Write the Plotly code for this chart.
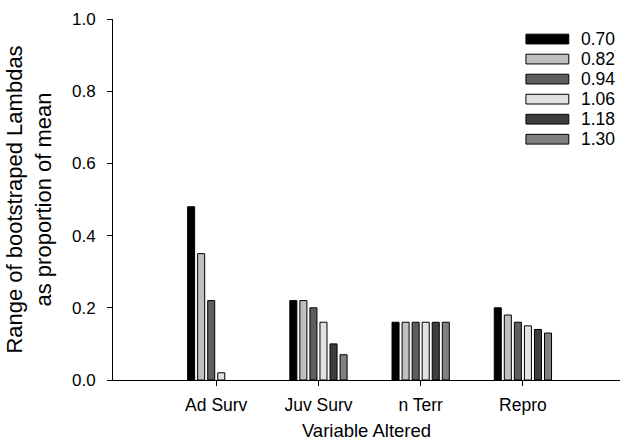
import plotly.graph_objects as go

# Variables altered in the sensitivity analysis
categories = ["Ad Surv", "Juv Surv", "n Terr", "Repro"]

# Multiplier applied to each variable (one series per level)
levels = ["0.70", "0.82", "0.94", "1.06", "1.18", "1.30"]

# Range of bootstrapped lambdas as proportion of mean, per level
v070 = [0.48, 0.22, 0.16, 0.20]
v082 = [0.35, 0.22, 0.16, 0.18]
v094 = [0.22, 0.20, 0.16, 0.16]
v106 = [0.02, 0.16, 0.16, 0.15]
v118 = [0.00, 0.10, 0.16, 0.14]
v130 = [0.00, 0.07, 0.16, 0.13]

series = [v070, v082, v094, v106, v118, v130]
fills = ["#000000", "#c0c0c0", "#5e5e5e", "#e2e2e2", "#3e3e3e", "#808080"]

FONT = "Liberation Sans, Arial, sans-serif"

fig = go.Figure()
for name, vals, col in zip(levels, series, fills):
    # no outline on empty bars so nothing is drawn for zero values
    widths = [1 if v > 0 else 0 for v in vals]
    fig.add_trace(go.Bar(
        x=categories, y=vals, name=name,
        marker=dict(color=col, line=dict(color="#000000", width=widths)),
        showlegend=False,
    ))

# Legend drawn as wide swatches with labels, top-right of the plot area
x0, x1, xt = 0.8145, 0.8990, 0.920
ytop, step, h = 0.9445, 0.0555, 0.027
for i, (name, col) in enumerate(zip(levels, fills)):
    yc = ytop - i * step
    fig.add_shape(type="rect", xref="paper", yref="paper",
                  x0=x0, x1=x1, y0=yc - h / 2, y1=yc + h / 2,
                  fillcolor=col, line=dict(color="#000000", width=1))
    fig.add_annotation(x=xt, y=yc, xref="paper", yref="paper", text=name,
                       showarrow=False, xanchor="left", yanchor="middle",
                       font=dict(family=FONT, size=17.5, color="#000000"))

fig.update_layout(
    width=625, height=442,
    margin=dict(l=113, r=5, t=19, b=62),
    paper_bgcolor="white", plot_bgcolor="white",
    barmode="group", bargap=0.41, bargroupgap=0.3,
    font=dict(family=FONT, size=17, color="#000000"),
)
fig.update_xaxes(
    range=[-1.01, 3.95], showline=True, linecolor="#000000", linewidth=1,
    ticks="outside", ticklen=5, tickcolor="#000000", showgrid=False,
    tickfont=dict(size=17.5), ticklabelstandoff=4,
    title=dict(text="Variable Altered", font=dict(size=18.5), standoff=10),
)
fig.update_yaxes(
    range=[0, 1.0], tickvals=[0, 0.2, 0.4, 0.6, 0.8, 1.0], tickformat=".1f",
    showline=True, linecolor="#000000", linewidth=1,
    ticks="outside", ticklen=5, tickcolor="#000000", showgrid=False,
    zeroline=False, tickfont=dict(size=17), ticklabelstandoff=8,
    title=dict(text="Range of bootstraped Lambdas<br>as proportion of mean",
               font=dict(size=22), standoff=14),
)

fig.write_html("out.html")
